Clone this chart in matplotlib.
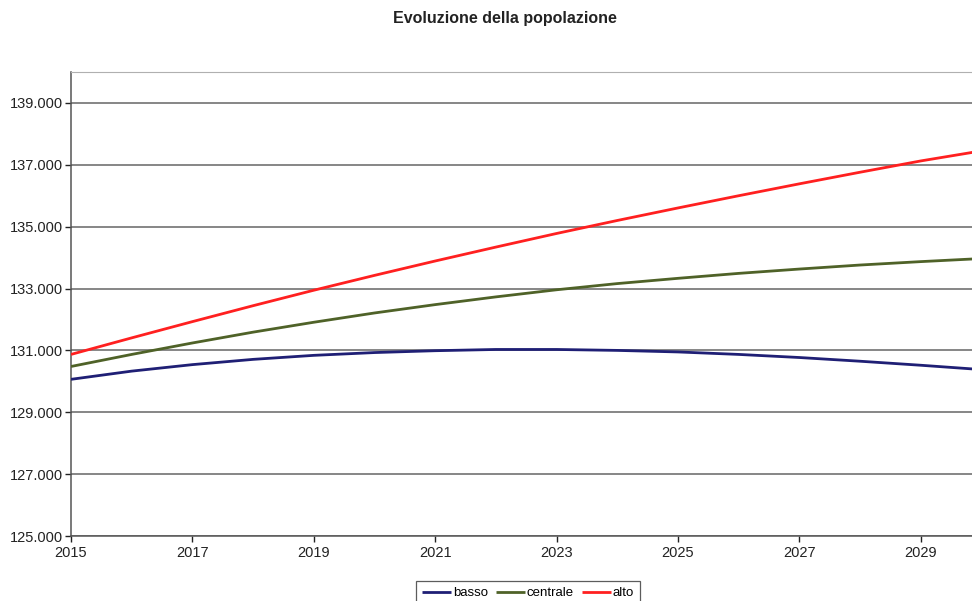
import matplotlib
matplotlib.use("Agg")
import matplotlib.pyplot as plt
from matplotlib.ticker import FuncFormatter

plt.rcParams['font.family'] = ['Liberation Sans', 'DejaVu Sans']

years = list(range(2015, 2031))
basso = [130065, 130330, 130540, 130710, 130840, 130930, 130990, 131030,
         131030, 131000, 130950, 130870, 130770, 130650, 130520, 130380]
centrale = [130480, 130870, 131240, 131590, 131910, 132210, 132480, 132730,
            132960, 133160, 133330, 133490, 133630, 133760, 133870, 133970]
alto = [130870, 131405, 131930, 132445, 132945, 133425, 133890, 134340,
        134780, 135200, 135605, 136000, 136385, 136760, 137125, 137450]

series_names = ["basso", "centrale", "alto"]
series_colors = ["#1f1f75", "#4f6228", "#ff2020"]
y_ticks = list(range(125000, 140000, 2000))
x_ticks = list(range(2015, 2030, 2))

fig = plt.figure(figsize=(9.72, 6.01), dpi=100)
ax = fig.add_axes([71 / 972, 1 - 536 / 601, 1 - 71 / 972 + 0.001, (536 - 72) / 601])

for yt in y_ticks:
    ax.axhline(yt, color="#666666", lw=1.1, zorder=1)

for vals, name, col in zip([basso, centrale, alto], series_names, series_colors):
    ax.plot(years, vals, color=col, lw=2.0, label=name, zorder=3, solid_capstyle="butt")

ax.set_xlim(2015, 2029.86)
ax.set_ylim(125000, 140000)
ax.set_yticks(y_ticks)
ax.set_xticks(x_ticks)
ax.yaxis.set_major_formatter(FuncFormatter(lambda v, p: f"{int(v):,}".replace(",", ".")))
ax.tick_params(axis="both", labelsize=10.5, colors="#222222", length=4, width=1, direction="out")
ax.tick_params(axis="x", pad=3)
ax.tick_params(axis="y", pad=2)

ax.spines["left"].set_color("#555555")
ax.spines["bottom"].set_color("#555555")
ax.spines["top"].set_color("#b0b0b0")
ax.spines["right"].set_visible(False)
for s in ("left", "bottom"):
    ax.spines[s].set_linewidth(1.1)

fig.text(505 / 972, 1 - 19 / 601, "Evoluzione della popolazione", ha="center", va="center",
         fontsize=11.5, fontweight="bold", color="#222222")

leg = fig.legend(loc="upper center", bbox_to_anchor=(528 / 972, 1 - 581 / 601), ncol=3,
                 fontsize=9.5, frameon=True, fancybox=False, edgecolor="#333333",
                 handlelength=2.2, handletextpad=0.15, columnspacing=0.6,
                 borderpad=0.45, borderaxespad=0)
leg.get_frame().set_linewidth(0.9)

fig.savefig("out.png", dpi=100)
